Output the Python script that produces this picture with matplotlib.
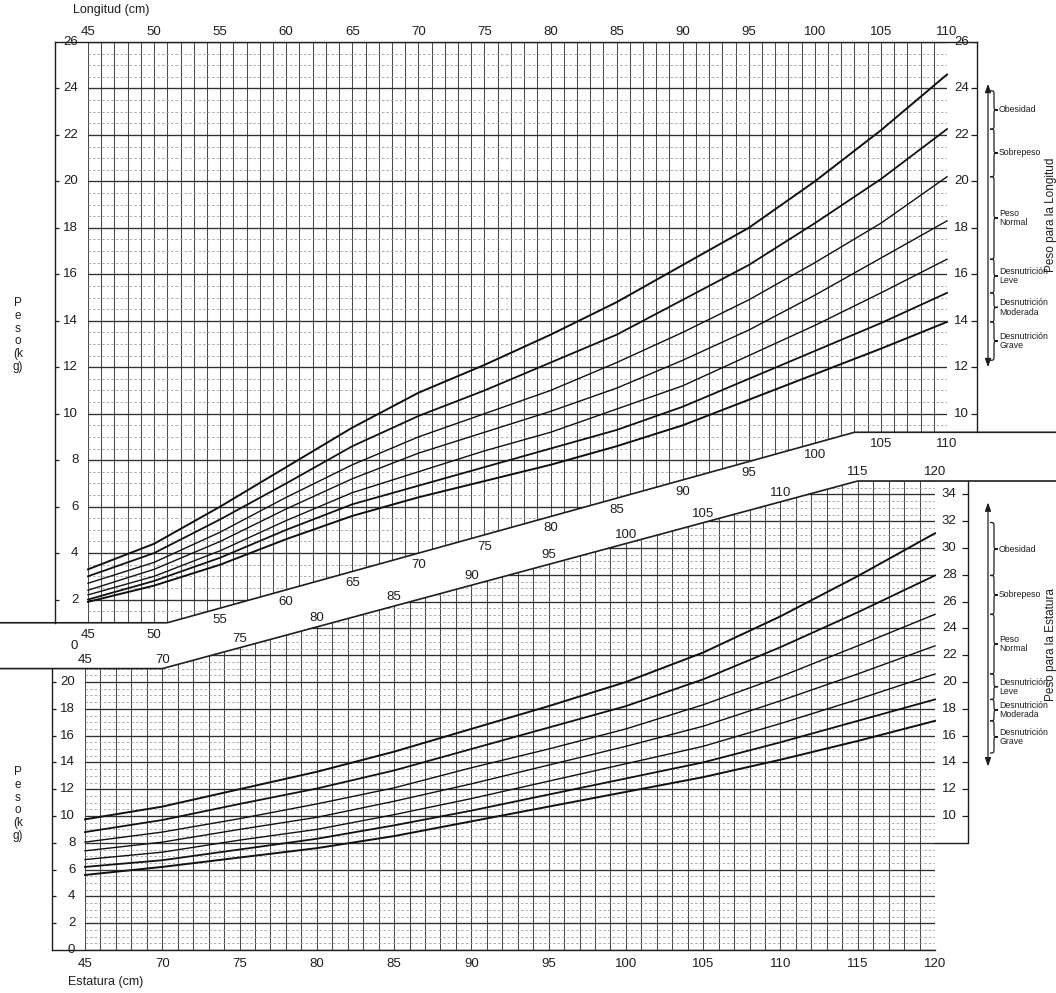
import matplotlib
matplotlib.use('Agg')
import matplotlib.pyplot as plt
import numpy as np
from matplotlib.patches import Polygon, PathPatch
from matplotlib.path import Path
from matplotlib.transforms import Affine2D, blended_transform_factory

plt.rcParams['font.family'] = ['Liberation Sans', 'DejaVu Sans']
INK = '#1e1e1e'

# --- Peso para la Longitud (45-110 cm), curvas -3 .. +3 DE
longitud = [45, 50, 55, 60, 65, 70, 75, 80, 85, 90, 95, 100, 105, 110]
lon_m3 = [1.9, 2.6, 3.5, 4.6, 5.6, 6.4, 7.1, 7.8, 8.6, 9.5, 10.6, 11.7, 12.8, 13.95]
lon_m2 = [2.0, 2.8, 3.8, 5.0, 6.1, 6.9, 7.7, 8.5, 9.3, 10.3, 11.5, 12.7, 13.9, 15.2]
lon_m1 = [2.2, 3.0, 4.1, 5.4, 6.6, 7.5, 8.4, 9.2, 10.2, 11.2, 12.5, 13.8, 15.2, 16.65]
lon_0 = [2.4, 3.3, 4.5, 5.9, 7.2, 8.3, 9.2, 10.1, 11.1, 12.3, 13.6, 15.1, 16.7, 18.3]
lon_p1 = [2.7, 3.6, 4.9, 6.4, 7.8, 9.0, 10.0, 11.0, 12.2, 13.5, 14.9, 16.5, 18.2, 20.2]
lon_p2 = [3.0, 4.0, 5.45, 7.0, 8.6, 9.9, 11.0, 12.2, 13.4, 14.9, 16.4, 18.2, 20.1, 22.25]
lon_p3 = [3.3, 4.4, 6.0, 7.7, 9.4, 10.9, 12.1, 13.4, 14.8, 16.4, 18.0, 20.0, 22.2, 24.6]

# --- Peso para la Estatura (65-120 cm)
estatura = [65, 70, 75, 80, 85, 90, 95, 100, 105, 110, 115, 120]
est_m3 = [5.6, 6.2, 6.9, 7.6, 8.5, 9.6, 10.7, 11.8, 12.9, 14.2, 15.6, 17.1]
est_m2 = [6.2, 6.7, 7.5, 8.3, 9.3, 10.4, 11.6, 12.8, 14.0, 15.5, 17.1, 18.7]
est_m1 = [6.75, 7.3, 8.2, 9.0, 10.1, 11.3, 12.6, 13.9, 15.2, 16.9, 18.7, 20.6]
est_0 = [7.4, 8.05, 9.0, 9.9, 11.1, 12.4, 13.8, 15.2, 16.7, 18.6, 20.6, 22.7]
est_p1 = [8.05, 8.8, 9.8, 10.9, 12.1, 13.6, 15.0, 16.5, 18.3, 20.4, 22.7, 25.05]
est_p2 = [8.8, 9.7, 10.9, 12.05, 13.4, 15.0, 16.6, 18.2, 20.2, 22.6, 25.2, 27.95]
est_p3 = [9.75, 10.7, 12.0, 13.3, 14.8, 16.5, 18.2, 20.0, 22.2, 24.9, 27.9, 31.1]

lon_ticks = list(range(45, 111, 5))
est_ticks = list(range(65, 121, 5))
est_tick_labels = ['45'] + [str(v) for v in range(70, 121, 5)]

categorias = ['Obesidad', 'Sobrepeso', 'Peso\nNormal', 'Desnutrición\nLeve',
              'Desnutrición\nModerada', 'Desnutrición\nGrave']

W, H = 1056, 993
fig = plt.figure(figsize=(W / 100, H / 100), dpi=100)
fig.patch.set_facecolor('white')
PX = Affine2D().scale(1 / W, -1 / H).translate(0, 1) + fig.transFigure


def box(l, t, r, b):
    return [l / W, 1 - b / H, (r - l) / W, (b - t) / H]


def draw_grid(ax, x0, x1, ytop, verts):
    clip = Polygon(verts, closed=True, transform=ax.transData)
    v = ax.vlines(np.arange(x0, x1 + 1), 0, ytop, colors='#4a4a4a', lw=0.75)
    minor = [y for y in np.arange(0, ytop + 0.01, 0.5) if y % 2]
    hmin = ax.hlines(minor, x0, x1, colors='#a0a0a0', lw=0.6, linestyles=(0, (3, 2.5)))
    hmaj = ax.hlines(np.arange(0, ytop + 0.01, 2), x0, x1, colors='#303030', lw=0.95)
    for c in (v, hmin, hmaj):
        c.set_clip_path(clip)


def y_labels(ax, xl, xr, left_vals, right_vals, xlo, xhi, cm):
    for v in left_vals:
        ax.annotate(str(v), (xl, v), xytext=(-7, 0), textcoords='offset points',
                    ha='right', va='center', fontsize=9.5, color=INK)
    for v in right_vals:
        ax.annotate(str(v), (xr, v), xytext=(5, 0), textcoords='offset points',
                    ha='left', va='center', fontsize=9.5, color=INK)
    ax.hlines([v for v in left_vals if 0 < v < ax.get_ylim()[1]], xlo, xlo + 4 / cm, colors=INK, lw=0.9)
    ax.hlines(right_vals, xhi - 6 / cm, xhi, colors=INK, lw=0.9)


def brace(ax, tr, x0, w, yt, yb, r):
    ym = (yt + yb) / 2
    x1, x2 = x0 + w / 2, x0 + w
    r = min(r, (yt - yb) / 4)
    verts = [(x0, yt), (x1, yt), (x1, yt), (x1, yt - r), (x1, ym + r),
             (x1, ym), (x1, ym), (x2, ym), (x1, ym), (x1, ym), (x1, ym - r),
             (x1, yb + r), (x1, yb), (x1, yb), (x0, yb)]
    C, L = Path.CURVE4, Path.LINETO
    codes = [Path.MOVETO, C, C, C, L, C, C, C, C, C, C, L, C, C, C]
    ax.add_patch(PathPatch(Path(verts, codes), transform=tr, fill=False,
                           lw=0.9, color=INK, clip_on=False))


def side_scale(ax, top, bot, bounds, ppk):
    tr = blended_transform_factory(PX, ax.transData)
    ax.annotate('', xy=(988, top), xytext=(988, bot), xycoords=tr, textcoords=tr,
                annotation_clip=False,
                arrowprops=dict(arrowstyle='<|-|>,head_width=0.18,head_length=0.5',
                                color=INK, lw=0.9, shrinkA=0, shrinkB=0))
    for yt, yb, lab in zip(bounds[:-1], bounds[1:], categorias):
        brace(ax, tr, 990, 8, yt, yb, 5 / ppk)
        ax.text(999, (yt + yb) / 2, lab, transform=tr, fontsize=6.3, ha='left',
                va='center', linespacing=1.05, color=INK)


# ================= top chart: Longitud =================
cm1 = (947 - 88) / 65
ax1 = fig.add_axes(box(55, 42, 977, 646))
x1lo, x1hi = 45 - 33 / cm1, 110 + 30 / cm1
ax1.set_xlim(x1lo, x1hi)
ax1.set_ylim(0, 26)
ax1.patch.set_alpha(0)
draw_grid(ax1, 45, 110, 26, [(45, 26), (110, 26), (110, 9.2), (103, 9.2), (51, 1.0), (45, 1.0)])

for arr, lw in zip([lon_m3, lon_m2, lon_m1, lon_0, lon_p1, lon_p2, lon_p3],
                   [1.4, 1.3, 1.0, 1.0, 1.0, 1.3, 1.4]):
    ax1.plot(longitud, arr, color='#111111', lw=lw, solid_joinstyle='round')

bx1 = [45 - 88 / cm1, 51, 103, 45 + (W - 88) / cm1]
by1 = [1.0, 1.0, 9.2, 9.2]
ax1.plot(bx1, by1, color=INK, lw=1.2, clip_on=False)
for t in lon_ticks:
    ax1.annotate(str(t), (t, np.interp(t, bx1, by1)), xytext=(0, -8.5),
                 textcoords='offset points', ha='center', va='center', fontsize=9.5, color=INK)

ax1.set_yticks([])
ax1.set_xticks(lon_ticks)
ax1.xaxis.tick_top()
ax1.tick_params(axis='x', length=0, pad=3, labelsize=9.5, labelcolor=INK)
for s in ax1.spines.values():
    s.set_color(INK)
    s.set_linewidth(1.0)
ax1.spines['bottom'].set_visible(False)
ax1.spines['left'].set_bounds(1.0, 26)
ax1.spines['right'].set_bounds(9.2, 26)
y_labels(ax1, 45, 110, list(range(0, 27, 2)), list(range(10, 27, 2)), x1lo, x1hi, cm1)
side_scale(ax1, 24.2, 12.0, [23.9, lon_p2[-1], lon_p1[-1], lon_m1[-1], lon_m2[-1], lon_m3[-1], 12.3],
           604 / 26)

# ================= bottom chart: Estatura =================
cm2 = (935 - 85) / 55
ax2 = fig.add_axes(box(52, 481, 968, 950))
x2lo, x2hi = 65 - 33 / cm2, 120 + 33 / cm2
ax2.set_xlim(x2lo, x2hi)
ax2.set_ylim(0, 35)
ax2.patch.set_alpha(0)
draw_grid(ax2, 65, 120, 35, [(65, 0), (120, 0), (120, 35), (115, 35), (70, 21), (65, 21)])

for arr, lw in zip([est_m3, est_m2, est_m1, est_0, est_p1, est_p2, est_p3],
                   [1.4, 1.3, 1.0, 1.0, 1.0, 1.3, 1.4]):
    ax2.plot(estatura, arr, color='#111111', lw=lw, solid_joinstyle='round')

bx2 = [65 - 85 / cm2, 70, 115, 65 + (W - 85) / cm2]
by2 = [21, 21, 35, 35]
ax2.plot(bx2, by2, color=INK, lw=1.2, clip_on=False)
for t, lab in zip(est_ticks, est_tick_labels):
    ax2.annotate(lab, (t, np.interp(t, bx2, by2)), xytext=(0, 6.5),
                 textcoords='offset points', ha='center', va='center', fontsize=9.5, color=INK)
ax2.plot([120, x2hi], [8, 8], color=INK, lw=1.0)

ax2.set_yticks([])
ax2.set_xticks(est_ticks)
ax2.set_xticklabels(est_tick_labels)
ax2.tick_params(axis='x', length=0, pad=6, labelsize=9.5, labelcolor=INK)
for s in ax2.spines.values():
    s.set_color(INK)
    s.set_linewidth(1.0)
ax2.spines['top'].set_visible(False)
ax2.spines['left'].set_bounds(0, 21)
ax2.spines['right'].set_bounds(8, 35)
ax2.spines['bottom'].set_bounds(x2lo, 120)
y_labels(ax2, 65, 120, list(range(0, 21, 2)), list(range(10, 35, 2)), x2lo, x2hi, cm2)
side_scale(ax2, 33.4, 13.7, [31.9, est_p2[-1], est_p1[-1], est_m1[-1], est_m2[-1], est_m3[-1], 14.7],
           469 / 35)

# ================= texts =================
fig.text(73, 10, 'Longitud (cm)', transform=PX, ha='left', va='center', fontsize=9, color=INK)
fig.text(68, 982, 'Estatura (cm)', transform=PX, ha='left', va='center', fontsize=9, color=INK)
for yc in (335, 804):
    fig.text(18, yc, 'P\ne\ns\no\n(k\ng)', transform=PX, ha='center', va='center',
             fontsize=8.5, linespacing=1.1, multialignment='center', color=INK)
fig.text(1051, 215, 'Peso para la Longitud', transform=PX, rotation=90,
         ha='center', va='center', fontsize=8.5, color=INK)
fig.text(1051, 645, 'Peso para la Estatura', transform=PX, rotation=90,
         ha='center', va='center', fontsize=8.5, color=INK)

fig.savefig('out.png', dpi=100)
